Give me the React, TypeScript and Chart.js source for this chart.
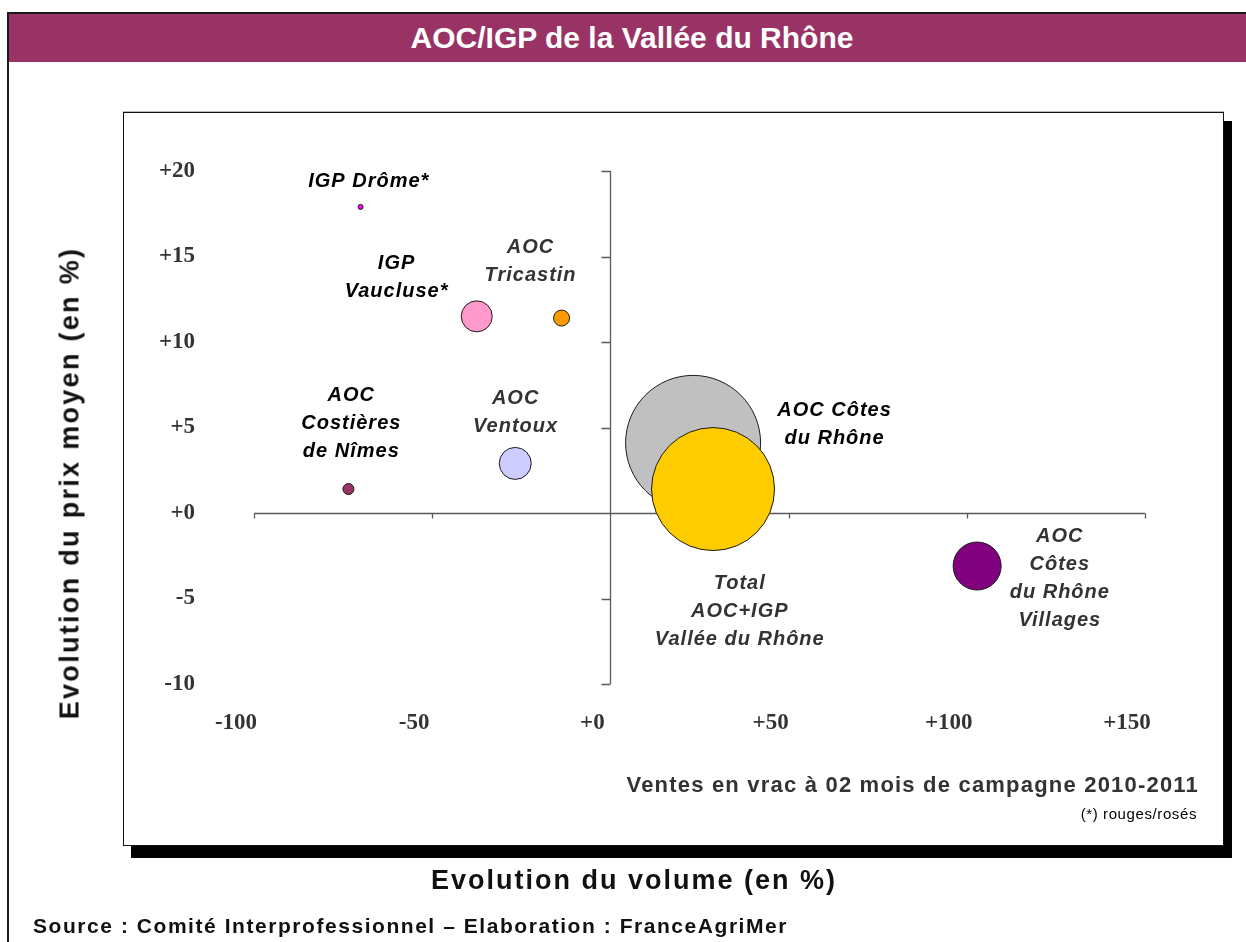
import React, { useEffect, useRef } from 'react';
import { Chart, registerables } from 'chart.js';

Chart.register(...registerables);

// ---- data ----
const appellations = [
  'IGP Drôme*',
  'IGP Vaucluse*',
  'AOC Tricastin',
  'AOC Costières de Nîmes',
  'AOC Ventoux',
  'AOC Côtes du Rhône',
  'Total AOC+IGP Vallée du Rhône',
  'AOC Côtes du Rhône Villages',
];
const volumeChange = [-70.1, -37.5, -13.7, -73.5, -26.7, 23.2, 28.8, 102.9];
const priceChange = [17.9, 11.5, 11.4, 1.4, 2.9, 4.1, 1.4, -3.1];
const bubbleSize = [2.5, 15.5, 8, 5.5, 16, 67.5, 61.5, 24];
const bubbleColors = ['#ff00ff', '#ff99cc', '#ff9900', '#993366', '#ccccff', '#c0c0c0', '#ffcc00', '#800080'];

const labelLines = [
  ['IGP Drôme*'],
  ['IGP', 'Vaucluse*'],
  ['AOC', 'Tricastin'],
  ['AOC', 'Costières', 'de Nîmes'],
  ['AOC', 'Ventoux'],
  ['AOC Côtes', 'du Rhône'],
  ['Total', 'AOC+IGP', 'Vallée du Rhône'],
  ['AOC', 'Côtes', 'du Rhône', 'Villages'],
];
const labelAnchorX = [-67.8, -60.0, -22.4, -72.7, -26.6, 62.9, 36.3, 126.1];
const labelAnchorY = [19.4, 14.6, 15.5, 6.9, 6.7, 6.0, -4.15, -1.35];
const labelColors = ['#000', '#000', '#333', '#000', '#333', '#000', '#333', '#333'];

const xTickValues = [-100, -50, 0, 50, 100, 150];
const yTickValues = [-10, -5, 0, 5, 10, 15, 20];

const fmt = (v: number) => (v >= 0 ? '+' + v : String(v));

const axesPlugin = {
  id: 'centerAxes',
  beforeDatasetsDraw(chart: any) {
    const { ctx, scales } = chart;
    const xs = scales.x;
    const ys = scales.y;
    const x0 = Math.round(xs.getPixelForValue(0)) + 0.5;
    const y0 = Math.round(ys.getPixelForValue(0)) + 0.5;
    ctx.save();
    ctx.strokeStyle = '#5a5a5a';
    ctx.lineWidth = 1.3;
    ctx.beginPath();
    ctx.moveTo(xs.getPixelForValue(xTickValues[0]), y0);
    ctx.lineTo(xs.getPixelForValue(xTickValues[xTickValues.length - 1]), y0);
    xTickValues.forEach((v) => {
      const px = Math.round(xs.getPixelForValue(v)) + 0.5;
      ctx.moveTo(px, y0);
      ctx.lineTo(px, y0 + 5);
    });
    ctx.moveTo(x0, ys.getPixelForValue(yTickValues[yTickValues.length - 1]));
    ctx.lineTo(x0, ys.getPixelForValue(yTickValues[0]));
    yTickValues.forEach((v) => {
      const py = Math.round(ys.getPixelForValue(v)) + 0.5;
      ctx.moveTo(x0 - 9, py);
      ctx.lineTo(x0, py);
    });
    ctx.stroke();
    ctx.restore();
  },
};

const labelsPlugin = {
  id: 'bubbleLabels',
  afterDatasetsDraw(chart: any) {
    const { ctx, scales } = chart;
    ctx.save();
    ctx.font = 'italic bold 20px "Liberation Sans", Arial, sans-serif';
    (ctx as any).letterSpacing = '1px';
    ctx.textAlign = 'center';
    ctx.textBaseline = 'middle';
    labelLines.forEach((lines, i) => {
      const cx = scales.x.getPixelForValue(labelAnchorX[i]);
      const cy = scales.y.getPixelForValue(labelAnchorY[i]);
      ctx.fillStyle = labelColors[i];
      lines.forEach((t, k) => ctx.fillText(t, cx, cy + k * 28));
    });
    ctx.restore();
  },
};

export default function App() {
  const ref = useRef<HTMLCanvasElement | null>(null);

  useEffect(() => {
    if (!ref.current) return;
    const tickFont = { family: '"Liberation Serif", "Times New Roman", serif', size: 23, weight: 'bold' as const };
    const chart = new Chart(ref.current, {
      type: 'bubble',
      data: {
        datasets: [
          {
            label: 'Vins',
            data: appellations.map((_, i) => ({ x: volumeChange[i], y: priceChange[i], r: bubbleSize[i] })),
            backgroundColor: bubbleColors,
            borderColor: '#1a1a1a',
            borderWidth: 1,
          },
        ],
      },
      options: {
        responsive: false,
        animation: false,
        events: [],
        layout: { padding: { left: 130, right: 101, top: 171, bottom: 178 } },
        plugins: { legend: { display: false }, tooltip: { enabled: false } },
        scales: {
          x: {
            type: 'linear',
            min: -100,
            max: 150,
            afterBuildTicks: (s: any) => {
              s.ticks = xTickValues.map((v) => ({ value: v }));
            },
            afterFit: (s: any) => {
              s.height = 80;
            },
            grid: { display: false, drawTicks: false },
            border: { display: false },
            ticks: {
              callback: (v: any) => fmt(Number(v)),
              font: tickFont,
              color: '#333',
              padding: 25,
              labelOffset: -18,
              maxRotation: 0,
              autoSkip: false,
            },
          },
          y: {
            type: 'linear',
            min: -10,
            max: 20,
            afterBuildTicks: (s: any) => {
              s.ticks = yTickValues.map((v) => ({ value: v }));
            },
            afterFit: (s: any) => {
              s.width = 124;
            },
            grid: { display: false, drawTicks: false },
            border: { display: false },
            ticks: {
              callback: (v: any) => fmt(Number(v)),
              font: tickFont,
              color: '#333',
              padding: 59,
              autoSkip: false,
            },
          },
        },
      },
      plugins: [axesPlugin, labelsPlugin],
    });
    return () => chart.destroy();
  }, []);

  const abs = (o: React.CSSProperties): React.CSSProperties => ({ position: 'absolute', ...o });

  return (
    <div
      style={abs({
        left: 0,
        top: 0,
        width: 1246,
        height: 942,
        overflow: 'hidden',
        background: '#fff',
        fontFamily: '"Liberation Sans", Arial, sans-serif',
      })}
    >
      {/* outer frame */}
      <div style={abs({ left: 7, top: 12, width: 1300, height: 1000, borderLeft: '2px solid #1a1a1a', borderTop: '2px solid #1a1a1a' })} />
      {/* title bar */}
      <div
        style={abs({
          left: 9,
          top: 14,
          width: 1246,
          height: 48,
          background: '#993366',
          color: '#fff',
          fontWeight: 'bold',
          fontSize: 30,
          lineHeight: '48px',
          textAlign: 'center',
          whiteSpace: 'nowrap',
        })}
      >
        AOC/IGP de la Vallée du Rhône
      </div>
      {/* shadow */}
      <div style={abs({ left: 1223, top: 121, width: 9, height: 737, background: '#000' })} />
      <div style={abs({ left: 131, top: 845, width: 1101, height: 13, background: '#000' })} />
      {/* inner box */}
      <div style={abs({ left: 123, top: 111, width: 1101, height: 1, background: '#bbb' })} />
      <div style={abs({ left: 123, top: 112, width: 1099, height: 732, border: '1px solid #111', background: '#fff' })} />
      <canvas ref={ref} width={1246} height={942} style={abs({ left: 0, top: 0, width: 1246, height: 942 })} />
      {/* texts */}
      <div
        style={abs({
          right: 1246 - 1199,
          top: 785,
          transform: 'translateY(-50%)',
          fontSize: 22,
          fontWeight: 'bold',
          letterSpacing: '1.2px',
          color: '#333',
          whiteSpace: 'nowrap',
          lineHeight: '22px',
        })}
      >
        Ventes en vrac à 02 mois de campagne 2010-2011
      </div>
      <div
        style={abs({
          right: 1246 - 1197,
          top: 813,
          transform: 'translateY(-50%)',
          fontSize: 15,
          letterSpacing: '0.6px',
          color: '#000',
          whiteSpace: 'nowrap',
          lineHeight: '15px',
        })}
      >
        (*) rouges/rosés
      </div>
      <div
        style={abs({
          left: 634,
          top: 880,
          transform: 'translate(-50%, -50%)',
          fontSize: 27,
          fontWeight: 'bold',
          letterSpacing: '2px',
          color: '#111',
          whiteSpace: 'nowrap',
          lineHeight: '27px',
        })}
      >
        Evolution du volume (en %)
      </div>
      <div
        style={abs({
          left: 70,
          top: 483,
          transform: 'translate(-50%, -50%) rotate(-90deg)',
          fontSize: 27,
          fontWeight: 'bold',
          letterSpacing: '2.3px',
          color: '#111',
          whiteSpace: 'nowrap',
          lineHeight: '27px',
        })}
      >
        Evolution du prix moyen (en %)
      </div>
      <div
        style={abs({
          left: 33,
          top: 925,
          transform: 'translateY(-50%)',
          fontSize: 21,
          fontWeight: 'bold',
          letterSpacing: '1.55px',
          color: '#111',
          whiteSpace: 'nowrap',
          lineHeight: '21px',
        })}
      >
        Source : Comité Interprofessionnel – Elaboration : FranceAgriMer
      </div>
    </div>
  );
}
